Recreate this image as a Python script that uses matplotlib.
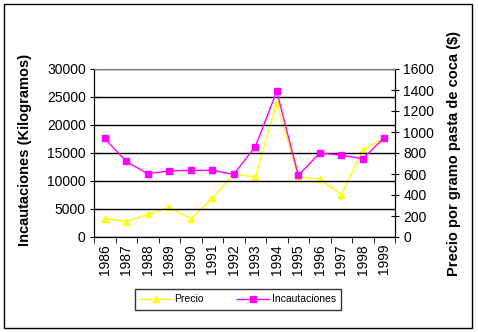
import matplotlib.pyplot as plt
from matplotlib.lines import Line2D

plt.rcParams['font.family'] = ['Liberation Sans', 'DejaVu Sans']

years = ['1986', '1987', '1988', '1989', '1990', '1991', '1992',
         '1993', '1994', '1995', '1996', '1997', '1998', '1999']
incautaciones = [17600, 13500, 11300, 11800, 11900, 11900, 11200,
                 16100, 26000, 11000, 15000, 14600, 14000, 17700]
precio = [175, 146, 216, 283, 175, 368, 600,
          571, 1280, 568, 556, 403, 829, 943]

fig = plt.figure(figsize=(4.78, 3.32), dpi=100)
fig.patch.set_facecolor('white')

# chart border like the Excel chart area
frame = plt.Rectangle((4 / 478, 4 / 332), 468 / 478, 324 / 332,
                      transform=fig.transFigure, fill=False,
                      edgecolor='black', linewidth=1.0)
fig.add_artist(frame)

ax = fig.add_axes([94 / 478, 95 / 332, 301 / 478, 168 / 332])
ax2 = ax.twinx()
ax.set_zorder(ax2.get_zorder() + 1)
ax.patch.set_visible(False)
ax2.set_facecolor('#C0C0C0')

x = list(range(len(years)))

ax2.plot(x, precio, color='#FFFF00', marker='^', markersize=5,
         linewidth=1.0, markeredgecolor='#FFFF00')
ax.plot(x, incautaciones, color='#FF00FF', marker='s', markersize=5,
        linewidth=1.0, markeredgecolor='#FF00FF')

ax.set_xlim(-0.5, len(years) - 0.5)
ax.set_ylim(0, 30000)
ax2.set_ylim(0, 1600)
ax.set_yticks(range(0, 30001, 5000))
ax2.set_yticks(range(0, 1601, 200))

ax.yaxis.grid(True, color='black', linewidth=1.0)
ax.set_axisbelow(True)

ax.set_xticks(x)
ax.set_xticklabels(years, rotation=90)
ax.set_xticks([i - 0.5 for i in range(len(years) + 1)], minor=True)
ax.tick_params(axis='x', which='major', length=0, pad=5, labelsize=10)
ax.tick_params(axis='x', which='minor', length=4, direction='out', color='black')
ax.tick_params(axis='y', direction='inout', length=6, labelsize=10, pad=3)
ax2.tick_params(axis='y', direction='inout', length=6, labelsize=10, pad=3)

for a in (ax, ax2):
    a.spines['top'].set_color('#808080')
    a.spines['left'].set_color('black')
    a.spines['right'].set_color('black')
    a.spines['bottom'].set_color('black')

ax.set_ylabel('Incautaciones (Kilogramos)', fontsize=10.5, fontweight='bold')
ax.yaxis.set_label_coords(-0.206, 0.52)
ax2.set_ylabel('Precio por gramo pasta de coca ($)', fontsize=10.5,
               fontweight='bold', rotation=90)
ax2.yaxis.set_label_coords(1.172, 0.5)

handles = [
    Line2D([], [], color='#FFFF00', marker='^', markersize=5, linewidth=1.0),
    Line2D([], [], color='#FF00FF', marker='s', markersize=5, linewidth=1.0),
]
leg = fig.legend(handles, ['Precio', 'Incautaciones'], ncol=2,
                 loc='center', bbox_to_anchor=(238 / 478, 1 - 299.5 / 332),
                 fontsize=7.5, frameon=True, fancybox=False,
                 edgecolor='black', handlelength=3, columnspacing=3.2,
                 borderpad=0.5, handletextpad=0.3)
leg.get_frame().set_linewidth(1.0)

fig.savefig('out.png', dpi=100)
